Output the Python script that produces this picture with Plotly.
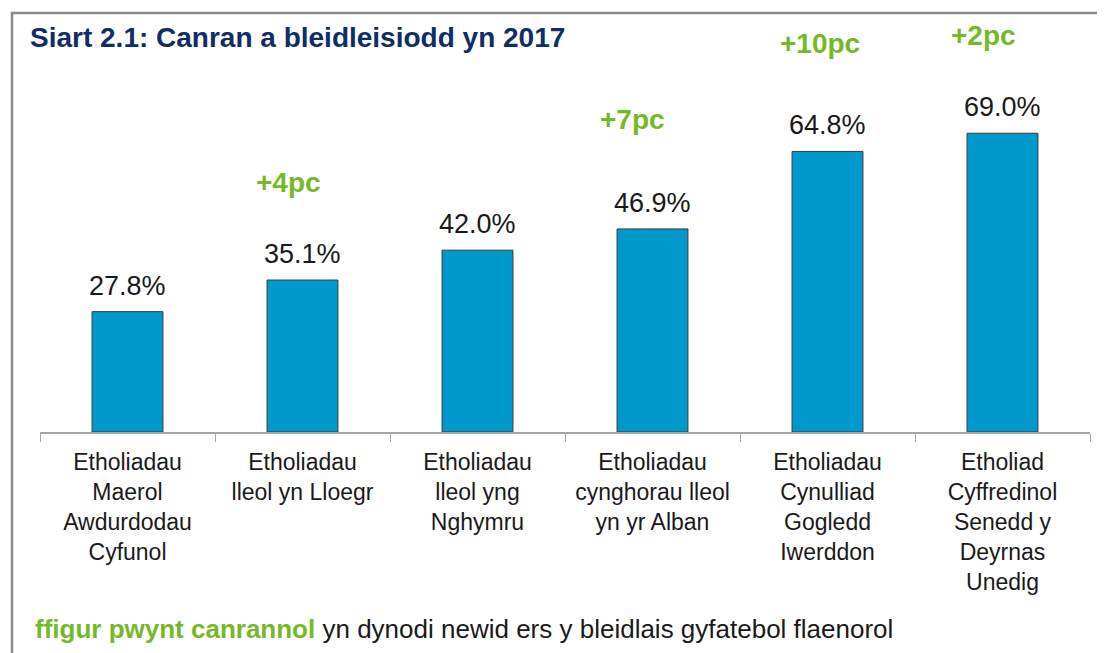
import plotly.graph_objects as go

# data
categories = [
    "Etholiadau<br>Maerol<br>Awdurdodau<br>Cyfunol",
    "Etholiadau<br>lleol yn Lloegr",
    "Etholiadau<br>lleol yng<br>Nghymru",
    "Etholiadau<br>cynghorau lleol<br>yn yr Alban",
    "Etholiadau<br>Cynulliad<br>Gogledd<br>Iwerddon",
    "Etholiad<br>Cyffredinol<br>Senedd y<br>Deyrnas<br>Unedig",
]
turnout = [27.8, 35.1, 42.0, 46.9, 64.8, 69.0]
change_labels = ["", "+4pc", "", "+7pc", "+10pc", "+2pc"]

TITLE = "Siart 2.1: Canran a bleidleisiodd yn 2017"
NOTE_KEY = "ffigur pwynt canrannol"
NOTE_REST = "yn dynodi newid ers y bleidlais gyfatebol flaenorol"

BLUE = "#0099CC"
NAVY = "#0F2D69"
GREEN = "#76B82A"
TEXT = "#1A1A1A"
AXIS = "#A6A6A6"
FRAME = "#8A8A8A"
FONT = "Liberation Sans, Arial, sans-serif"

W, H = 1105, 653
OFF = 8  # page body margin pushes the figure down/right
# plot area in window pixels: x 40..1090, baseline at 432.5, top at 20
M = dict(l=40 - OFF, r=W - (1090 - OFF), t=20 - OFF, b=H - (432.5 - OFF))
PW = W - M["l"] - M["r"]
PH = H - M["t"] - M["b"]
PX_PER_UNIT = 4.335


def px_to_paper(x, y):
    """Window pixels -> paper coords."""
    return (x - OFF - M["l"]) / PW, (H - M["b"] - (y - OFF)) / PH


fig = go.Figure()
fig.add_trace(go.Bar(
    x=categories, y=turnout,
    marker=dict(color=BLUE, line=dict(color="#3A3A3A", width=1)),
    hoverinfo="skip",
))

# value labels above the bars
for cat, v in zip(categories, turnout):
    fig.add_annotation(
        x=cat, y=v, text=f"{v:.1f}%", showarrow=False,
        yanchor="bottom", yshift=9,
        font=dict(family=FONT, size=27, color=TEXT),
    )

# percentage-point change labels (green)
change_shift = [(0, 0), (-14, 98), (0, 0), (-20, 109), (-8, 108), (-19, 98)]
for cat, v, lab, (dx, dy) in zip(categories, turnout, change_labels, change_shift):
    if not lab:
        continue
    fig.add_annotation(
        x=cat, y=v, text=f"<b>{lab}</b>", showarrow=False,
        yanchor="middle", xshift=dx, yshift=dy,
        font=dict(family=FONT, size=28, color=GREEN),
    )

# footnote
fx, fy = px_to_paper(33, 630)
fig.add_annotation(
    xref="paper", yref="paper", x=fx, y=fy,
    xanchor="left", yanchor="middle", showarrow=False,
    text=f"<b><span style='color:{GREEN}'>{NOTE_KEY}</span></b> {NOTE_REST}",
    font=dict(family=FONT, size=26, color=TEXT),
)

# frame (only left and top edges fall inside the picture)
x0, y1 = px_to_paper(12, 13)
fig.add_shape(
    type="rect", xref="paper", yref="paper",
    x0=x0, y0=-2, x1=1.5, y1=y1,
    line=dict(color=FRAME, width=2.5), layer="above",
)

fig.update_layout(
    width=W, height=H,
    paper_bgcolor="white", plot_bgcolor="white",
    font=dict(family=FONT, color=TEXT),
    title=dict(
        text=f"<b>{TITLE}</b>", x=(30 - OFF) / W, xanchor="left",
        y=1 - (37 - OFF) / H, yanchor="middle", xref="container", yref="container",
        font=dict(family=FONT, size=28, color=NAVY),
    ),
    xaxis=dict(
        showline=True, linecolor=AXIS, linewidth=1.5,
        ticks="outside", tickson="boundaries", ticklen=8, tickcolor=AXIS,
        ticklabelstandoff=9,
        tickfont=dict(family=FONT, size=23, color=TEXT),
        showgrid=False,
    ),
    yaxis=dict(range=[0, PH / PX_PER_UNIT], visible=False, showgrid=False),
    bargap=0.595,
    margin=M,
    showlegend=False,
)

fig.write_html("out.html", config=dict(displayModeBar=False))
